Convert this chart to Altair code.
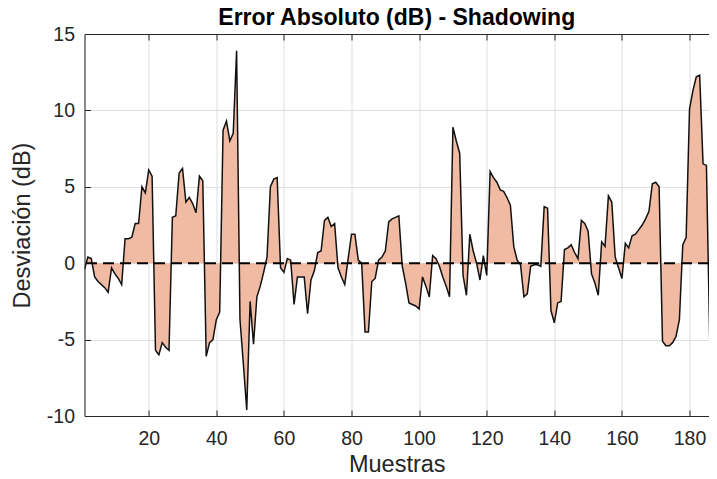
import altair as alt
import pandas as pd

# ---- data ----
muestras = list(range(1, 190))
desviacion = [
    -0.4, 0.4, 0.3, -0.9, -1.2, -1.4, -1.6, -1.9, -0.3, -0.7,     # 1-10
    -1.0, -1.4, 1.6, 1.6, 1.7, 2.6, 2.6, 5.0, 4.6, 6.1,          # 11-20
    5.7, -5.7, -6.0, -5.2, -5.5, -5.7, 3.0, 3.1, 5.9, 6.2,       # 21-30
    4.0, 4.3, 3.9, 3.3, 5.7, 5.4, -6.1, -5.2, -5.0, -3.7,        # 31-40
    -3.2, 8.7, 9.3, 8.0, 8.5, 13.9, -3.7, -6.6, -9.6, -2.5,      # 41-50
    -5.3, -2.2, -1.5, -0.6, 0.4, 5.0, 5.5, 5.6, -0.3, -0.6,      # 51-60
    0.3, 0.2, -2.7, -0.9, -0.9, -0.9, -3.3, -1.1, -0.5, 0.7,     # 61-70
    0.8, 2.8, 3.0, 2.4, 2.6, -0.3, -0.9, -1.4, 0.3, 1.9,         # 71-80
    1.9, 0.2, 0.0, -4.5, -4.5, -1.2, -1.0, 0.2, 0.4, 0.8,        # 81-90
    2.7, 2.9, 3.0, 3.1, -0.2, -1.3, -2.6, -2.7, -2.8, -3.0,      # 91-100
    -0.9, -1.5, -2.2, 0.5, 0.3, -0.2, -0.9, -1.5, -2.2, 8.9,     # 101-110
    8.0, 7.2, -0.8, -2.1, 1.9, 0.8, 0.0, -1.1, 0.5, -0.8,        # 111-120
    6.0, 5.6, 5.3, 4.8, 4.7, 4.3, 3.8, 1.1, 0.2, -0.1,           # 121-130
    -2.2, -2.0, -0.2, -0.1, -0.1, -0.2, 3.7, 3.6, -3.1, -3.9,    # 131-140
    -2.6, -2.5, 0.9, 1.0, 1.2, 0.7, 0.3, 2.8, 2.6, 2.1,          # 141-150
    -0.7, -1.3, -2.1, 1.4, 1.1, 4.4, 4.0, 0.4, -0.3, -1.0,       # 151-160
    1.3, 1.0, 1.8, 1.9, 2.2, 2.5, 2.9, 3.4, 5.2, 5.3,            # 161-170
    5.0, -5.1, -5.4, -5.4, -5.2, -4.8, -3.7, 1.2, 1.7, 10.1,     # 171-180
    11.3, 12.2, 12.3, 6.5, 6.4, -5.3, -5.2, -7.4, -9.0,          # 181-189
]
x_ticks = [20, 40, 60, 80, 100, 120, 140, 160, 180]
y_ticks = [-10, -5, 0, 5, 10, 15]
# visible part of the x range (the reference crops the plot at its right edge)
x_domain = [1, 185.76]
y_domain = [-10, 15]

df = pd.DataFrame({"Muestras": muestras, "Desviacion": desviacion})
cero = pd.DataFrame({"cero": [0]})

W = 624.5
H = 382
FONT = "Liberation Sans"
TXT = "#262626"
GRID = "#dedede"
LABEL_EXPR = "'' + datum.value"

xs = alt.Scale(domain=x_domain, nice=False, zero=False)
ys = alt.Scale(domain=y_domain, nice=False)

base = alt.Chart(df)

area = base.mark_area(color="#F0BAA3", opacity=1, clip=True).encode(
    x=alt.X("Muestras:Q", scale=xs, axis=alt.Axis(
        values=x_ticks, title="Muestras", grid=True, gridColor=GRID, gridWidth=1,
        ticks=False, tickSize=0, domain=True, domainColor=TXT, domainWidth=1,
        labelFont=FONT, labelFontSize=19.5, labelColor=TXT, labelPadding=22,
        labelBaseline="middle", labelExpr=LABEL_EXPR,
        titleFont=FONT, titleFontSize=23.5, titleFontWeight="normal", titleColor=TXT,
        titleY=48, titleBaseline="middle")),
    y=alt.Y("Desviacion:Q", scale=ys, axis=alt.Axis(
        values=y_ticks, title="Desviación (dB)", grid=True, gridColor=GRID, gridWidth=1,
        ticks=False, tickSize=0, domain=True, domainColor=TXT, domainWidth=1,
        labelFont=FONT, labelFontSize=19.5, labelColor=TXT, labelPadding=10,
        labelExpr=LABEL_EXPR,
        titleFont=FONT, titleFontSize=23.5, titleFontWeight="normal", titleColor=TXT,
        titleX=-62.5, titleY=H / 2, titleAlign="center", titleBaseline="middle")),
)

line = base.mark_line(color="#111111", strokeWidth=1.5, clip=True).encode(
    x=alt.X("Muestras:Q", scale=xs, axis=alt.Axis(
        orient="bottom", offset=-H, values=x_ticks, labels=False, grid=False,
        ticks=True, tickSize=6, tickColor=TXT, domain=True, domainColor=TXT, title=None)),
    y=alt.Y("Desviacion:Q", scale=ys, axis=alt.Axis(
        orient="right", offset=-W, values=y_ticks, labels=False, grid=False,
        ticks=True, tickSize=6, tickColor=TXT, domain=False, title=None)),
)

ticks_bottom = base.mark_line(opacity=0, clip=True).encode(
    x=alt.X("Muestras:Q", scale=xs, axis=alt.Axis(
        orient="top", offset=-H, values=x_ticks, labels=False, grid=False,
        ticks=True, tickSize=6, tickColor=TXT, domain=False, title=None)),
    y=alt.Y("Desviacion:Q", scale=ys, axis=None),
)

zero = alt.Chart(cero).mark_rule(color="#000000", strokeWidth=2, strokeDash=[11, 6]).encode(
    y=alt.Y("cero:Q", scale=ys, axis=None),
)

chart = alt.layer(area, line, ticks_bottom, zero).resolve_axis(
    x="independent", y="independent"
).properties(
    width=W, height=H,
    title=alt.TitleParams("Error Absoluto (dB) - Shadowing", font=FONT, fontSize=23,
                          fontWeight="bold", color="#000000", anchor="middle",
                          offset=0, dy=6),
    autosize=alt.AutoSizeParams(type="none"),
    padding={"left": 76.5, "top": 26, "right": 0, "bottom": 60},
).configure_view(stroke=None).configure(background="white")

chart.save("out.html", embed_options={"renderer": "svg", "actions": False})
